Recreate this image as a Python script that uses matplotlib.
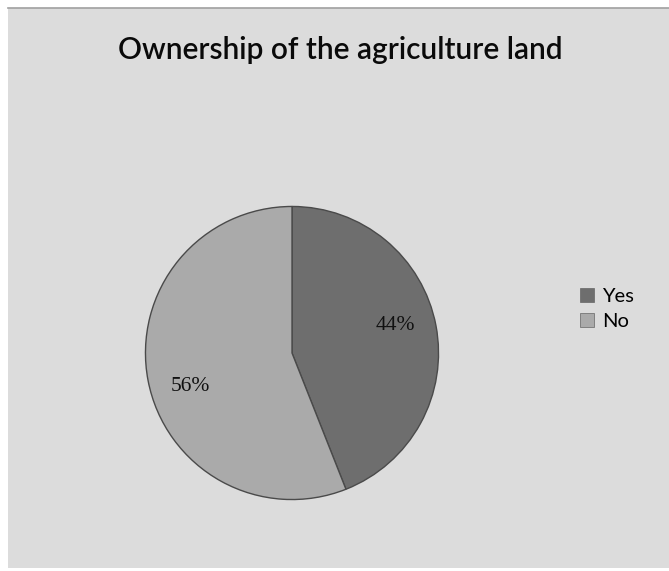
import matplotlib
matplotlib.use("Agg")
import matplotlib.pyplot as plt
import numpy as np
from matplotlib.patches import Rectangle

labels = ["Yes", "No"]
values = [44, 56]
colors = ["#6e6e6e", "#aaaaaa"]
title = "Ownership of the agriculture land"

W, H = 669, 571
fig = plt.figure(figsize=(W / 100, H / 100), dpi=100, facecolor="white")

# chart area background
fig.patches.append(Rectangle((8 / W, 3 / H), 661 / W, (H - 11) / H,
                             transform=fig.transFigure, facecolor="#dcdcdc",
                             edgecolor="none", zorder=-5))
fig.lines.append(plt.Line2D([8 / W, 1], [1 - 8 / H, 1 - 8 / H], transform=fig.transFigure,
                            color="#a0a0a0", lw=1.2, zorder=-4))

cx, cy, r = 292, 353, 148
ax = fig.add_axes([(cx - r) / W, (H - cy - r) / H, 2 * r / W, 2 * r / H])
ax.set_facecolor("none")
ax.set_zorder(2)
wedges, texts, autotexts = ax.pie(values, colors=colors, startangle=90, counterclock=False,
                                  autopct="%d%%", pctdistance=0.73,
                                  wedgeprops=dict(edgecolor="#4a4a4a", linewidth=1.0),
                                  textprops=dict(fontsize=15.5, family="Liberation Serif",
                                                 color="#111111"))
# label placement angles (Excel-style best fit)
label_angles = [15, 198]
for t, a in zip(autotexts, label_angles):
    t.set_position((0.73 * np.cos(np.radians(a)), 0.73 * np.sin(np.radians(a))))
ax.set_aspect("equal")
ax.set_xlim(-1.01, 1.01)
ax.set_ylim(-1.01, 1.01)

fig.text(340 / W, 1 - 50 / H, title, ha="center", va="center", fontsize=21.5,
         family="Lato", fontweight="semibold", color="#0a0a0a")

leg = fig.legend(wedges, labels, loc="center left", bbox_to_anchor=(562 / W, 1 - 309 / H),
                 frameon=False, handlelength=0.7, handleheight=0.7,
                 handletextpad=0.4, labelspacing=0.4, prop=dict(family="Lato", size=14.5))
for h in leg.legend_handles:
    h.set_edgecolor("#666666")
    h.set_linewidth(0.5)

fig.savefig("out.png", dpi=100, facecolor="white")
